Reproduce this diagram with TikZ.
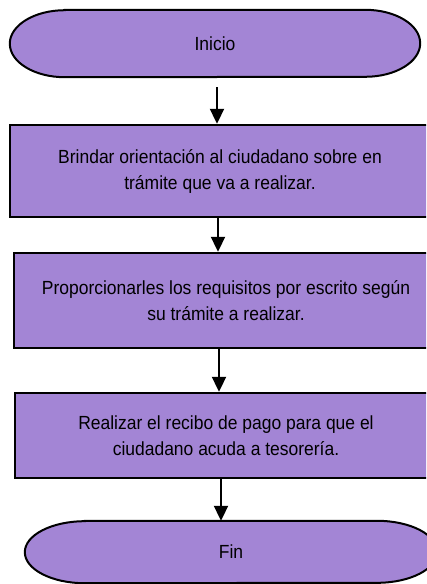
\documentclass[tikz,border=0pt]{standalone}
\usepackage{fontspec}
\setmainfont{Liberation Sans}[FakeStretch=0.92]
\usetikzlibrary{arrows.meta,backgrounds,calc}
\definecolor{lila}{RGB}{163,133,213}
\newcommand\twolines[3]{\raisebox{#1}{\parbox{400pt}{\centering #2\\#3}}}
\begin{document}
\begin{tikzpicture}[x=1pt,y=-1pt,
  proc/.style={draw=black, line width=2.4pt, fill=lila, align=center, font=\fontsize{19}{26}\selectfont, inner sep=0pt},
  term/.style={draw=black, line width=2pt, fill=lila},
  termtext/.style={font=\fontsize{19}{26}\selectfont, inner sep=0pt},
  arr/.style={line width=2pt, -{Triangle[width=14pt,length=15pt]}}]
\useasboundingbox (0,0) rectangle (426,584);
\clip (0,0) rectangle (426,584);

% terminals (text nodes, shapes drawn behind)
\node[termtext, minimum width=410pt, minimum height=67pt] (ini) at (215,43.5) {\raisebox{-6pt}{Inicio}};
\node[termtext, minimum width=412pt, minimum height=62pt] (fin) at (231,552) {\raisebox{-7pt}{Fin}};

% process boxes
\node[proc, minimum width=420pt, minimum height=92pt] (b1) at (220,171)
  {\twolines{0pt}{Brindar orientación al ciudadano sobre en}{trámite que va a realizar.}};
\node[proc, minimum width=424pt, minimum height=95pt] (b2) at (226,300.5)
  {\twolines{7pt}{Proporcionarles los requisitos por escrito según}{su trámite a realizar.}};
\node[proc, minimum width=422pt, minimum height=85pt] (b3) at (226,435.5)
  {\twolines{-3pt}{Realizar el recibo de pago para que el}{ciudadano acuda a tesorería.}};

\begin{scope}[on background layer]
\draw[term] ($(ini.north west)+(55,0)$) -- ($(ini.north east)+(-55,0)$)
  arc[start angle=90,end angle=-90,x radius=55pt,y radius=33.5pt]
  -- ($(ini.south west)+(55,0)$)
  arc[start angle=270,end angle=90,x radius=55pt,y radius=33.5pt] -- cycle;
\draw[term] ($(fin.north west)+(60,0)$) -- ($(fin.north east)+(-60,0)$)
  arc[start angle=90,end angle=-90,x radius=60pt,y radius=31pt]
  -- ($(fin.south west)+(60,0)$)
  arc[start angle=270,end angle=90,x radius=60pt,y radius=31pt] -- cycle;
\end{scope}

% connectors
\coordinate (x1) at (217,0);
\coordinate (x2) at (218,0);
\coordinate (x3) at (219,0);
\coordinate (x4) at (221,0);
\draw[arr, shorten <=10pt] (ini.south -| x1) -- (b1.north -| x1);
\draw[arr] (b1.south -| x2) -- (b2.north -| x2);
\draw[arr] (b2.south -| x3) -- (b3.north -| x3);
\draw[arr] (b3.south -| x4) -- (fin.north -| x4);
\end{tikzpicture}
\end{document}
